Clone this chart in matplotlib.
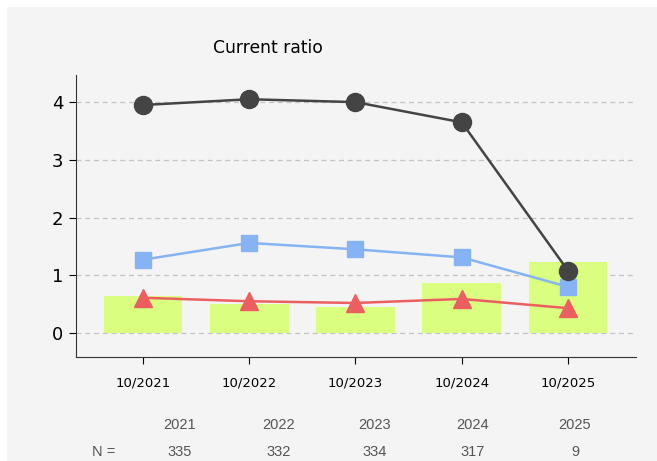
import matplotlib
matplotlib.use("Agg")
import matplotlib.pyplot as plt
from matplotlib.patches import Rectangle
import numpy as np

periods = ["10/2021", "10/2022", "10/2023", "10/2024", "10/2025"]
years = ["2021", "2022", "2023", "2024", "2025"]
counts = ["335", "332", "334", "317", "9"]
bar_values = [0.64, 0.50, 0.45, 0.87, 1.23]
dark_values = [3.95, 4.05, 4.00, 3.65, 1.08]
blue_values = [1.27, 1.56, 1.45, 1.31, 0.80]
red_values = [0.61, 0.55, 0.52, 0.59, 0.43]

W, H = 657, 461
fig = plt.figure(figsize=(W / 100, H / 100), dpi=100)
fig.patch.set_facecolor("white")
fig.add_artist(Rectangle((7 / W, 0), 1, (H - 7) / H, transform=fig.transFigure,
                         facecolor="#f4f4f4", edgecolor="none", zorder=-10))

ax = fig.add_axes([76 / W, (H - 357) / H, (636 - 76) / W, (357 - 75) / H])
ax.set_facecolor("#f4f4f4")
x = np.arange(len(periods))

ax.bar(x, bar_values, width=0.74, color="#d9fe80", zorder=2)
ax.plot(x, dark_values, color="#444444", lw=1.8, marker="o", ms=13, zorder=5)
ax.plot(x, blue_values, color="#86b3f3", lw=1.8, marker="s", ms=12, zorder=4)
ax.plot(x, red_values, color="#eb5f60", lw=1.8, marker="^", ms=13, zorder=4)

ax.set_xlim(-0.63, 4.64)
ax.set_ylim(-0.416, 4.47)
ax.set_yticks([0, 1, 2, 3, 4])
ax.set_yticklabels(["0", "1", "2", "3", "4"], fontsize=13)
ax.set_xticks(x)
ax.set_xticklabels(periods, fontsize=9.5)
ax.tick_params(axis="x", length=5, pad=9)
ax.tick_params(axis="y", length=5, pad=4)
ax.grid(axis="y", color="#c4c4c4", linestyle=(0, (4, 3)), lw=0.9, zorder=1)
ax.set_axisbelow(True)
for s in ["top", "right"]:
    ax.spines[s].set_visible(False)
ax.spines["left"].set_color("#333333")
ax.spines["bottom"].set_color("#333333")

fig.text(268 / W, 1 - 48 / H, "Current ratio", ha="center", va="center", fontsize=12.3)

xs = [180, 279, 375, 473, 575]
for xp, yr, n in zip(xs, years, counts):
    fig.text(xp / W, 1 - 425 / H, yr, ha="center", va="center", fontsize=10.5,
             color="#555555", family="Liberation Sans")
    fig.text(xp / W, 1 - 452 / H, n, ha="center", va="center", fontsize=10.5,
             color="#555555", family="Liberation Sans")
fig.text(104 / W, 1 - 452 / H, "N =", ha="center", va="center", fontsize=10.5,
         color="#555555", family="Liberation Sans")

fig.savefig("out.png", dpi=100)
